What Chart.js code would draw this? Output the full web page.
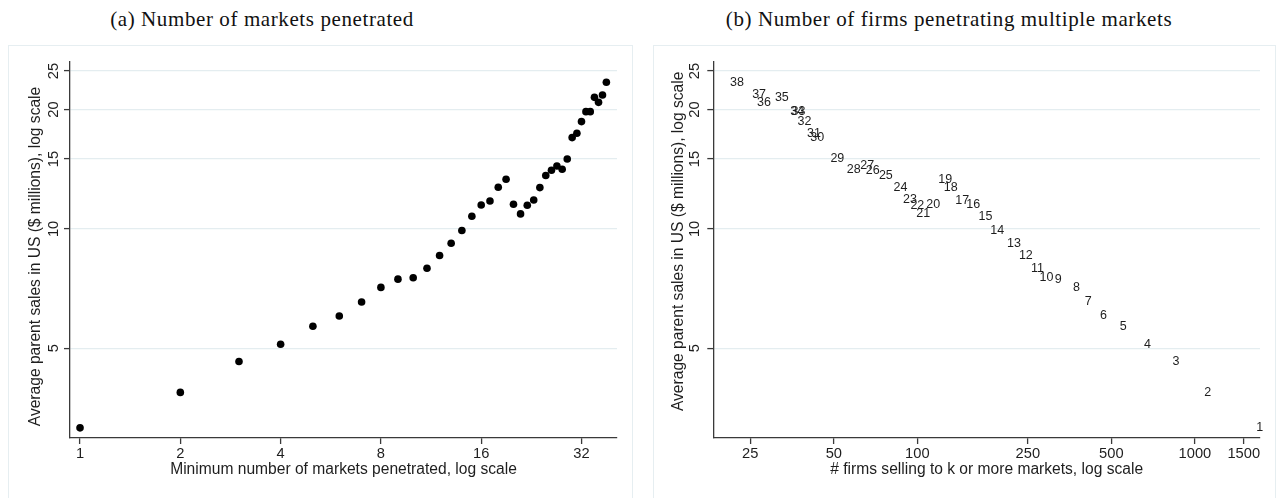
<!DOCTYPE html>
<html>
<head>
<meta charset="utf-8">
<script src="https://cdn.jsdelivr.net/npm/chart.js@4/dist/chart.umd.min.js"></script>
<style>
  html, body { margin: 0; padding: 0; background: #fff; width: 1276px; height: 498px; overflow: hidden; }
  .panel { position: absolute; top: 45px; height: 470px; border: 1px solid #e6eef1; box-sizing: border-box; background: #fff; }
  .plot { position: absolute; top: 46px; height: 452px; }
  .caption { position: absolute; top: 9px; width: 700px; text-align: center; white-space: nowrap;
             font-family: "Liberation Serif", "Times New Roman", serif; font-size: 21px; line-height: 21px;
             letter-spacing: 0.6px; color: #111; }
</style>
</head>
<body>
<div class="caption" style="left:-88px">(a) Number of markets penetrated</div>
<div class="caption" style="left:599px">(b) Number of firms penetrating multiple markets</div>

<div class="panel" style="left:8px; width:625px"></div>
<div class="panel" style="left:653px; width:623px"></div>

<div class="plot" style="left:9px; width:622px"><canvas id="chartA" width="622" height="452"></canvas></div>
<div class="plot" style="left:654px; width:621px"><canvas id="chartB" width="621" height="452"></canvas></div>

<script>
// k: minimum number of markets penetrated
const markets = [1, 2, 3, 4, 5, 6, 7, 8, 9, 10, 11, 12, 13, 14, 15, 16, 17, 18, 19, 20,
                 21, 22, 23, 24, 25, 26, 27, 28, 29, 30, 31, 32, 33, 34, 35, 36, 37, 38];
// average parent sales in the US ($ millions) of firms selling to k or more markets
const sales = [3.15, 3.87, 4.63, 5.12, 5.68, 6.03, 6.54, 7.12, 7.47, 7.53,
               7.96, 8.57, 9.20, 9.91, 10.76, 11.49, 11.76, 12.74, 13.34, 11.54,
               10.91, 11.47, 11.83, 12.71, 13.63, 14.06, 14.41, 14.14, 15.01, 16.99,
               17.42, 18.64, 19.75, 19.75, 21.46, 20.85, 21.76, 23.42];
// number of firms selling to k or more markets
const firms = [1712, 1112, 855, 674, 552, 468, 413, 374, 322, 292,
               271, 246, 223, 194, 176, 159, 145, 132, 126, 114,
               105, 100, 94, 87, 77, 69, 66, 59, 51.5, 43.6,
               42.4, 39.2, 37.3, 36.9, 32.5, 28.0, 26.9, 22.4];

const marketTicks = [1, 2, 4, 8, 16, 32];
const firmTicks = [25, 50, 100, 250, 500, 1000, 1500];
const salesTicks = [5, 10, 15, 20, 25];

const AXIS = '#3a3a3a';
const GRID = '#e4edf0';
const TEXT = '#1e1e1e';
const SANS = "'Liberation Sans', Arial, Helvetica, sans-serif";

function fixedTicks(list) {
  return scale => { scale.ticks = list.map(v => ({ value: v })); };
}

function logAxis(o) {
  return {
    type: 'logarithmic',
    position: o.position,
    min: o.min,
    max: o.max,
    bounds: 'data',
    afterBuildTicks: fixedTicks(o.ticks),
    afterFit: o.fit,
    border: { display: true, color: AXIS, width: 1.3 },
    grid: {
      display: true, drawOnChartArea: o.grid, drawTicks: true,
      color: GRID, lineWidth: 1.2, tickColor: AXIS, tickWidth: 1.3, tickLength: 6
    },
    ticks: {
      autoSkip: false, color: TEXT, padding: o.pad,
      font: { family: SANS, size: 14.7 },
      minRotation: o.rot, maxRotation: o.rot, crossAlign: o.cross,
      major: { enabled: false },
      callback: v => String(v)
    },
    title: {
      display: true, text: o.title, color: TEXT,
      font: { family: SANS, size: 15.6 }, padding: o.titlePad
    }
  };
}

// draws the k label of each point at the point's own position
const pointLabels = {
  id: 'pointLabels',
  afterDatasetsDraw(chart, args, opts) {
    if (!opts.labels) return;
    const ctx = chart.ctx;
    const meta = chart.getDatasetMeta(0);
    ctx.save();
    ctx.font = opts.font;
    ctx.fillStyle = opts.color;
    ctx.textAlign = 'center';
    ctx.textBaseline = 'middle';
    meta.data.forEach((el, i) => ctx.fillText(String(opts.labels[i]), el.x, el.y));
    ctx.restore();
  }
};

function baseOptions(padRight, xScale, yScale, labels) {
  return {
    responsive: false,
    animation: false,
    devicePixelRatio: 1,
    events: [],
    layout: { padding: { left: 0, top: 16, right: padRight, bottom: 0 } },
    plugins: {
      legend: { display: false },
      tooltip: { enabled: false },
      title: { display: false },
      pointLabels: labels ? { labels: labels, font: "12.5px " + SANS, color: TEXT } : {}
    },
    scales: { x: xScale, y: yScale }
  };
}

const yTitle = 'Average parent sales in US ($ millions), log scale';

// (a) average sales against minimum number of markets
new Chart(document.getElementById('chartA'), {
  type: 'scatter',
  data: {
    datasets: [{
      data: markets.map((k, i) => ({ x: k, y: sales[i] })),
      pointRadius: 3.8,
      pointBackgroundColor: '#000',
      pointBorderWidth: 0,
      showLine: false
    }]
  },
  options: baseOptions(14,
    logAxis({
      position: 'bottom', min: 0.933, max: 40.9, ticks: marketTicks, grid: false,
      pad: 1, rot: 0, cross: 'near', fit: s => { s.height = 60; },
      title: 'Minimum number of markets penetrated, log scale',
      titlePad: { top: 0, bottom: 18.6 }
    }),
    logAxis({
      position: 'left', min: 2.97, max: 26.35, ticks: salesTicks, grid: true,
      pad: 2, rot: 90, cross: 'center', fit: s => { s.width = 61; },
      title: yTitle + '   ',
      titlePad: { top: 17.6, bottom: 0 }
    }), null),
  plugins: [pointLabels]
});

// (b) average sales against number of firms, each point labelled with k
new Chart(document.getElementById('chartB'), {
  type: 'scatter',
  data: {
    datasets: [{
      data: firms.map((n, i) => ({ x: n, y: sales[i] })),
      pointRadius: 0,
      showLine: false,
      clip: false
    }]
  },
  options: baseOptions(15,
    logAxis({
      position: 'bottom', min: 18.4, max: 1716, ticks: firmTicks, grid: false,
      pad: 1, rot: 0, cross: 'near', fit: s => { s.height = 60; },
      title: '# firms selling to k or more markets, log scale',
      titlePad: { top: 0, bottom: 18.6 }
    }),
    logAxis({
      position: 'left', min: 2.97, max: 26.35, ticks: salesTicks, grid: true,
      pad: 4, rot: 90, cross: 'center', fit: s => { s.width = 59.3; },
      title: '    ' + yTitle,
      titlePad: { top: 15.1, bottom: 0 }
    }), markets),
  plugins: [pointLabels]
});
</script>
</body>
</html>
